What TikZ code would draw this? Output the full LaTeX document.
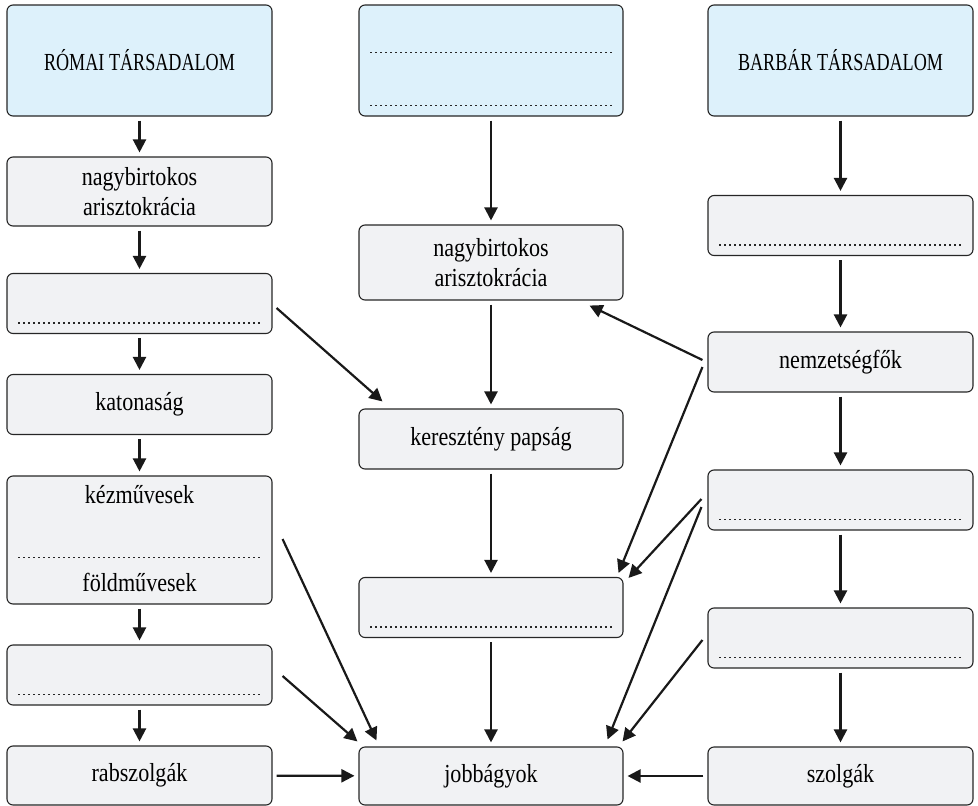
\documentclass[tikz,border=0pt]{standalone}
\usepackage{fontspec}
\setmainfont{Liberation Serif}[FakeStretch=0.85]
\newfontfamily\headfont{Liberation Serif}[FakeStretch=0.74]
\usetikzlibrary{arrows.meta}
\definecolor{headblue}{HTML}{DDF1FB}
\definecolor{boxgray}{HTML}{F1F2F4}

\begin{document}
\begin{tikzpicture}[x=1pt,y=-1pt,
  box/.style={draw=black!85, line width=1.1pt, rounded corners=6pt, fill=boxgray, minimum width=265pt, minimum height=60pt, inner sep=0pt, align=center, font=\fontsize{26}{30}\selectfont},
  head/.style={box, fill=headblue, minimum height=111pt, font=\headfont\fontsize{24.5}{28}\selectfont},
  arr/.style={-{Triangle[length=13pt,width=13pt]}, line width=2.2pt, black!90, shorten <=4pt, shorten >=4pt},
  diag/.style={arr, shorten <=0pt, shorten >=0pt},
  dots/.style={line width=1.7pt, dash pattern=on 1.7pt off 3.3pt, black!85}]
\useasboundingbox (0,0) rectangle (978,806);

% left column
\node[head] (romai) at (139.5,60.5) {RÓMAI TÁRSADALOM};
\node[box, minimum height=69pt] (lnagy) at (139.5,191.5) {nagybirtokos\\arisztokrácia};
\node[box] (lblank) at (139.5,303.5) {};
\node[box] (katona) at (139.5,404.5) {katonaság};
\node[box, minimum height=128pt,
  label={[anchor=north, yshift=-6pt, font=\fontsize{26}{30}\selectfont]north:kézművesek},
  label={[anchor=south, yshift=9pt, font=\fontsize{26}{30}\selectfont]south:földművesek}] (kezmu) at (139.5,540) {};
\node[box] (lblank2) at (139.5,675) {};
\node[box, minimum height=59pt] (rabszolga) at (139.5,775.5) {rabszolgák};

% middle column
\node[head, minimum width=264pt] (mtop) at (491,60.5) {};
\node[box, minimum width=264pt, minimum height=75pt] (mnagy) at (491,262.5) {nagybirtokos\\arisztokrácia};
\node[box, minimum width=264pt] (papsag) at (491,439) {keresztény papság};
\node[box, minimum width=264pt] (mblank) at (491,607.5) {};
\node[box, minimum width=264pt, minimum height=58pt] (jobb) at (491,776) {jobbágyok};

% right column
\node[head] (barbar) at (840.5,60.5) {BARBÁR TÁRSADALOM};
\node[box] (rblank1) at (840.5,225.5) {};
\node[box] (nemzet) at (840.5,362) {nemzetségfők};
\node[box] (rblank2) at (840.5,500) {};
\node[box] (rblank3) at (840.5,638) {};
\node[box, minimum height=58pt] (szolga) at (840.5,776) {szolgák};

% dotted lines
\foreach \n in {lblank, lblank2, mblank, rblank1, rblank2, rblank3, mtop}
  \draw[dots] ([xshift=12pt,yshift=11pt]\n.south west) -- ([xshift=-10pt,yshift=11pt]\n.south east);
\draw[dots] ([xshift=12pt,yshift=64pt]mtop.south west) -- ([xshift=-10pt,yshift=64pt]mtop.south east);
\draw[dots] ([xshift=12pt,yshift=47pt]kezmu.south west) -- ([xshift=-10pt,yshift=47pt]kezmu.south east);

% straight arrows
\foreach \a/\b in {romai/lnagy, lnagy/lblank, lblank/katona, katona/kezmu, kezmu/lblank2, lblank2/rabszolga,
  mtop/mnagy, mnagy/papsag, papsag/mblank, mblank/jobb,
  barbar/rblank1, rblank1/nemzet, nemzet/rblank2, rblank2/rblank3, rblank3/szolga,
  rabszolga/jobb, szolga/jobb}
  \draw[arr] (\a) -- (\b);

% slanted arrows
\draw[diag] ([xshift=4pt,yshift=-4.5pt]lblank.east) -- ([xshift=24pt,yshift=7pt]papsag.north west);
\draw[diag] ([xshift=-5pt,yshift=2pt]nemzet.west) -- ([xshift=-34pt,yshift=-5pt]mnagy.south east);
\draw[diag] ([xshift=-5pt,yshift=-5pt]nemzet.west) -- ([xshift=-5pt,yshift=4pt]mblank.north east);
\draw[diag] ([xshift=-6pt,yshift=1pt]rblank2.west) -- ([xshift=5pt,yshift=-1pt]mblank.north east);
\draw[diag] ([xshift=-6pt,yshift=-7pt]rblank2.west) -- ([xshift=-16pt,yshift=7pt]jobb.north east);
\draw[diag] ([xshift=-5pt,yshift=-2pt]rblank3.west) -- ([xshift=-1pt,yshift=5pt]jobb.north east);
\draw[diag] ([xshift=10pt,yshift=1pt]kezmu.east) -- ([xshift=18pt,yshift=6pt]jobb.north west);
\draw[diag] ([xshift=10pt,yshift=-1pt]lblank2.east) -- ([xshift=-1pt,yshift=5pt]jobb.north west);
\end{tikzpicture}
\end{document}
